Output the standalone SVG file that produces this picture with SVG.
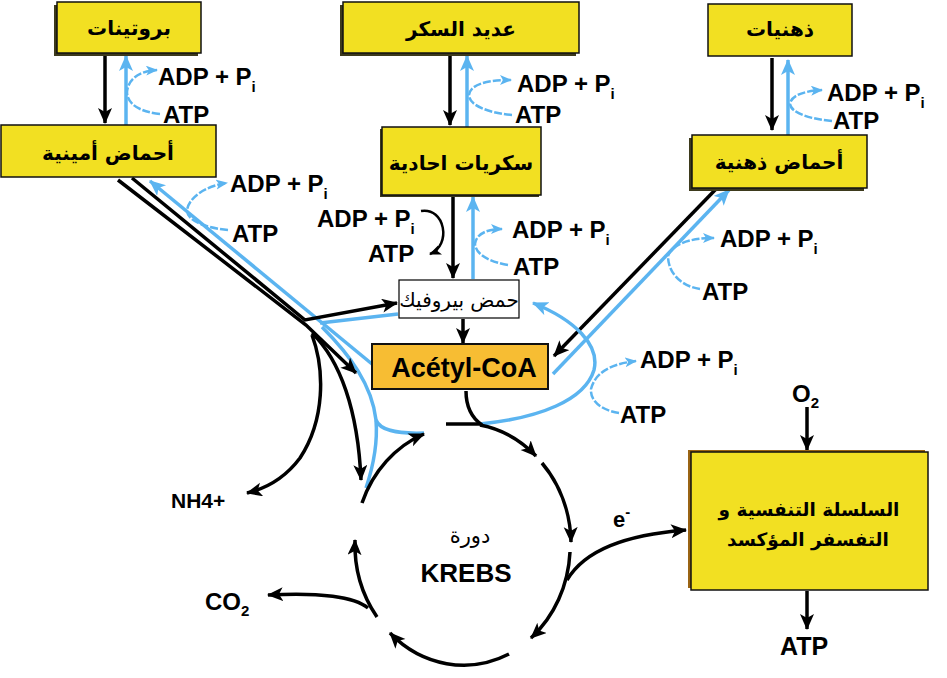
<svg xmlns="http://www.w3.org/2000/svg" width="947" height="678" viewBox="0 0 947 678">
<style>
.ybox{fill:#F2E022;stroke:#111;stroke-width:1.5}
.shadow{fill:#3d3a1c}
.ar{font-family:'DejaVu Sans','Noto Sans',sans-serif;font-weight:bold;font-size:20px;fill:#000;text-anchor:middle}
.lbl{font-family:'Liberation Sans',Arial,sans-serif;font-weight:bold;font-size:24px;fill:#000}
.sub{font-size:15px}
.blk{fill:none;stroke:#000;stroke-width:3.5}
.blu{fill:none;stroke:#5BB4F0;stroke-width:3.5}
.bd{fill:none;stroke:#5BB4F0;stroke-width:2.5;stroke-dasharray:8 2}
.bk2{fill:none;stroke:#000;stroke-width:2.5}
</style>
<defs>
<marker id="ak" markerUnits="userSpaceOnUse" markerWidth="18" markerHeight="16" refX="15" refY="7" orient="auto"><path d="M0,0 L16,7 L0,14 L4,7 z" fill="#000"/></marker>
<marker id="ab" markerUnits="userSpaceOnUse" markerWidth="18" markerHeight="16" refX="15" refY="7" orient="auto"><path d="M0,0 L16,7 L0,14 L4,7 z" fill="#5BB4F0"/></marker>
<marker id="abs" markerUnits="userSpaceOnUse" markerWidth="14" markerHeight="12" refX="11" refY="5" orient="auto"><path d="M0,0 L12,5 L0,10 L3,5 z" fill="#5BB4F0"/></marker>
<marker id="aks" markerUnits="userSpaceOnUse" markerWidth="14" markerHeight="12" refX="11" refY="5" orient="auto"><path d="M0,0 L12,5 L0,10 L3,5 z" fill="#000"/></marker>
</defs>
<rect width="947" height="678" fill="#fff"/>

<g id="connectors">
  <path class="blk" d="M105,55 L105,123" marker-end="url(#ak)"/>
  <path class="blu" d="M126,125 L126,56" marker-end="url(#ab)"/>
  <path class="bd" d="M160,114 C140,112 127,104 127,92 C128,80 138,71 157,70" marker-end="url(#abs)"/>

  <path class="blk" d="M450,55 L450,125" marker-end="url(#ak)"/>
  <path class="blu" d="M467,127 L467,56" marker-end="url(#ab)"/>
  <path class="bd" d="M512,115 C490,113 469,106 469,95 C470,85 485,80 511,80" marker-end="url(#abs)"/>

  <path class="blk" d="M772,58 L772,130" marker-end="url(#ak)"/>
  <path class="blu" d="M788,135 L788,60" marker-end="url(#ab)"/>
  <path class="bd" d="M832,121 C810,119 791,113 790,104 C791,95 805,91 822,90" marker-end="url(#abs)"/>

  <path class="blk" d="M453,196 L453,278" marker-end="url(#ak)"/>
  <path class="blu" d="M473,279 L473,197" marker-end="url(#ab)"/>
  <path class="bd" d="M508,265 C490,262 476,255 475,244 C476,234 487,229 502,229" marker-end="url(#abs)"/>

  <path class="bk2" d="M421,211 C445,207 452,245 430,254" marker-end="url(#aks)"/>

  <path class="blu" d="M372,364 L150,181" marker-end="url(#ab)"/>
  <path class="blu" d="M398,314 L320,323"/>
  <path class="blu" d="M322,327 C350,355 372,385 376,420 C378,445 372,470 366,488"/>
  <path class="blu" d="M376,420 C380,430 395,434 424,433"/>
  <path class="bd" d="M228,230 C208,228 188,222 187,211 C188,198 205,186 227,183" marker-end="url(#abs)"/>

  <path class="blk" d="M118,180 L306,325 L356,373" marker-end="url(#ak)"/>
  <path class="blk" d="M132,178 L305,320 L397,303" marker-end="url(#ak)"/>
  <path class="blk" d="M312,333 C340,360 358,410 361,480" marker-end="url(#ak)"/>
  <path class="blk" d="M312,335 C325,370 325,420 300,458 C285,478 268,488 247,493" marker-end="url(#ak)"/>

  <path class="blk" d="M463,319 L463,343" marker-end="url(#ak)"/>

  <path class="blk" d="M717,188 L554,356" marker-end="url(#ak)"/>
  <path class="blu" d="M553,374 L729,190" marker-end="url(#ab)"/>
  <path class="bd" d="M700,289 C680,286 668,272 668,256 C672,244 690,238 714,238" marker-end="url(#abs)"/>

  <path class="blu" d="M480,424 C540,418 585,400 594,370 C600,345 575,320 533,303" marker-end="url(#ab)"/>
  <path class="bd" d="M619,413 C600,410 590,400 591,389 C595,373 610,364 636,361" marker-end="url(#abs)"/>

  <path class="blk" d="M466,391 C466,408 472,418 482,425"/>
  <path class="blk" d="M446,424 L481,424"/>

  <path class="blk" d="M480,425 A108,120 0 0 1 536,456" marker-end="url(#ak)"/>
  <path class="blk" d="M542,463 A108,120 0 0 1 571,542" marker-end="url(#ak)"/>
  <path class="blk" d="M570,552 A108,120 0 0 1 531,638" marker-end="url(#ak)"/>
  <path class="blk" d="M509,654 A108,120 0 0 1 390,633" marker-end="url(#ak)"/>
  <path class="blk" d="M377,617 A108,120 0 0 1 355,540" marker-end="url(#ak)"/>
  <path class="blk" d="M362,503 A108,120 0 0 1 424,434" marker-end="url(#ak)"/>
  <path class="blk" d="M368,608 C355,597 320,592 268,595" marker-end="url(#ak)"/>
  <path class="blk" d="M567,580 C585,550 625,535 686,530" marker-end="url(#ak)"/>

  <path class="blk" d="M807,407 L807,450" marker-end="url(#ak)"/>
  <path class="blk" d="M807,591 L807,629" marker-end="url(#ak)"/>
</g>

<g id="labels">
  <text class="lbl" x="158" y="85">ADP + P<tspan class="sub" dy="7">i</tspan></text>
  <text class="lbl" x="163" y="123">ATP</text>
  <text class="lbl" x="230" y="192">ADP + P<tspan class="sub" dy="7">i</tspan></text>
  <text class="lbl" x="232" y="242">ATP</text>
  <text class="lbl" x="317" y="227">ADP + P<tspan class="sub" dy="7">i</tspan></text>
  <text class="lbl" x="368" y="262">ATP</text>
  <text class="lbl" x="517" y="92">ADP + P<tspan class="sub" dy="7">i</tspan></text>
  <text class="lbl" x="515" y="123">ATP</text>
  <text class="lbl" x="512" y="238">ADP + P<tspan class="sub" dy="7">i</tspan></text>
  <text class="lbl" x="513" y="275">ATP</text>
  <text class="lbl" x="827" y="101">ADP + P<tspan class="sub" dy="7">i</tspan></text>
  <text class="lbl" x="833" y="129">ATP</text>
  <text class="lbl" x="720" y="247">ADP + P<tspan class="sub" dy="7">i</tspan></text>
  <text class="lbl" x="702" y="300">ATP</text>
  <text class="lbl" x="640" y="368">ADP + P<tspan class="sub" dy="7">i</tspan></text>
  <text class="lbl" x="620" y="423">ATP</text>
  <text class="lbl" x="171" y="508" style="font-size:21px">NH4+</text>
  <text class="lbl" x="205" y="610">CO<tspan class="sub" dy="6">2</tspan></text>
  <text class="lbl" x="613" y="527" style="font-size:22px">e<tspan class="sub" dy="-10">-</tspan></text>
  <text class="lbl" x="792" y="402">O<tspan class="sub" dy="6">2</tspan></text>
  <text class="lbl" x="780" y="655" style="font-size:25px">ATP</text>
</g>

<g id="node-proteines">
  <rect class="shadow" x="54" y="5" width="144" height="51"/>
  <rect class="ybox" x="57" y="2" width="144" height="51"/>
  <text class="ar" x="129" y="35">بروتينات</text>
</g>
<g id="node-acides-amines">
  <rect class="ybox" x="1" y="125" width="215" height="52"/>
  <text class="ar" x="108" y="160">أحماض أمينية</text>
</g>
<g id="node-polysaccharides">
  <rect class="shadow" x="340" y="5" width="236" height="51"/>
  <rect class="ybox" x="343" y="2" width="236" height="51"/>
  <text class="ar" x="461" y="36">عديد السكر</text>
</g>
<g id="node-monosaccharides">
  <rect class="shadow" x="380" y="129" width="159" height="68"/>
  <rect class="ybox" x="382" y="127" width="159" height="68"/>
  <text class="ar" x="461" y="170">سكريات احادية</text>
</g>
<g id="node-lipides">
  <rect class="ybox" x="708" y="4" width="144" height="52"/>
  <text class="ar" x="780" y="36">ذهنيات</text>
</g>
<g id="node-acides-gras">
  <rect class="shadow" x="689" y="138" width="175" height="53"/>
  <rect class="ybox" x="692" y="135" width="175" height="53"/>
  <text class="ar" x="779" y="169">أحماض ذهنية</text>
</g>
<g id="node-pyruvate">
  <rect x="399" y="280" width="120" height="38" fill="#fff" stroke="#000" stroke-width="1.2"/>
  <text x="459" y="307" style="font-family:'DejaVu Sans','Noto Sans',sans-serif;font-size:20px;text-anchor:middle">حمض بيروفيك</text>
</g>
<g id="node-acetylcoa">
  <rect x="372" y="344" width="176" height="45" fill="#F7BD33" stroke="#111" stroke-width="2"/>
  <text x="464" y="377" style="font-family:'Liberation Sans',Arial,sans-serif;font-weight:bold;font-size:27px;text-anchor:middle">Acétyl-CoA</text>
</g>
<g id="node-krebs">
  <text x="470" y="543" style="font-family:'DejaVu Sans','Noto Sans',sans-serif;font-size:21px;text-anchor:middle">دورة</text>
  <text x="466" y="582" style="font-family:'Liberation Sans',Arial,sans-serif;font-weight:bold;font-size:26px;text-anchor:middle">KREBS</text>
</g>
<g id="node-chaine-respiratoire">
  <rect x="688" y="450" width="237" height="138" fill="#9a6414"/>
  <rect class="ybox" x="691" y="452" width="237" height="138"/>
  <text class="ar" x="809" y="516" style="font-size:18.5px">السلسلة التنفسية و</text>
  <text class="ar" x="808" y="546" style="font-size:18.5px">التفسفر المؤكسد</text>
</g>
</svg>
